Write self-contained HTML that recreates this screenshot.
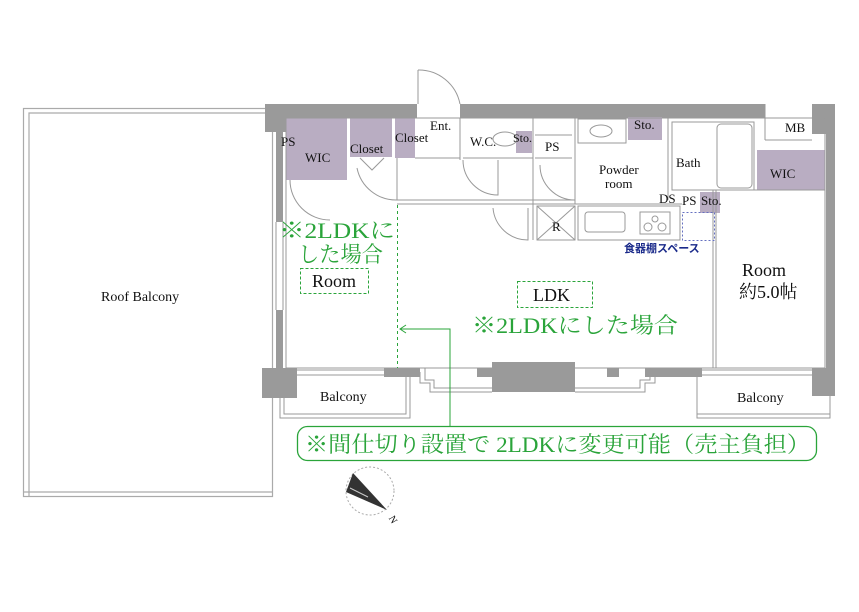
<!DOCTYPE html>
<html><head><meta charset="utf-8"><style>
html,body{margin:0;padding:0;background:#fff;}
svg{display:block;}
text{font-family:"Liberation Serif","Noto Serif CJK SC",serif;fill:#111;}
.g{fill:#2aa43a;font-family:"Liberation Serif","Noto Serif CJK JP",serif;}
</style></head><body>
<svg width="859" height="612" viewBox="0 0 859 612" xmlns="http://www.w3.org/2000/svg">
<g fill="none" stroke="#aaa" stroke-width="1.2">
<rect x="23.5" y="108.5" width="249" height="388"/>
<polyline points="29,496 29,113 272,113"/>
<line x1="23" y1="492" x2="272" y2="492"/>
</g>
<g fill="#9a9a9a">
<rect x="265" y="104" width="152" height="14"/>
<rect x="265" y="104" width="32" height="28"/>
<rect x="276" y="130" width="7" height="92"/>
<rect x="276" y="310" width="7" height="60"/>
<rect x="262" y="368" width="35" height="30"/>
<rect x="460" y="104" width="305" height="14"/>
<rect x="812" y="104" width="23" height="30"/>
<rect x="826" y="130" width="9" height="240"/>
<rect x="812" y="368" width="23" height="28"/>
<rect x="384" y="368" width="36" height="9"/>
<rect x="477" y="368" width="25" height="9"/>
<rect x="492" y="362" width="83" height="30"/>
<rect x="607" y="368" width="12" height="9"/>
<rect x="645" y="368" width="57" height="9"/>
</g>
<g fill="#b9adc2">
<rect x="286" y="118" width="61" height="62"/>
<rect x="350" y="118" width="42" height="39"/>
<rect x="395" y="118" width="20" height="40"/>
<rect x="516" y="131" width="16" height="22"/>
<rect x="628" y="117" width="34" height="23"/>
<rect x="757" y="150" width="68" height="40"/>
<rect x="700" y="192" width="20" height="21"/>
</g>
<g fill="none" stroke="#999" stroke-width="1">
<rect x="286" y="118" width="539" height="250"/>
<line x1="397" y1="158" x2="397" y2="200"/>
<line x1="397" y1="200" x2="575" y2="200"/>
<line x1="397" y1="204" x2="575" y2="204"/>
<line x1="460" y1="118" x2="460" y2="160"/>
<line x1="415" y1="158" x2="460" y2="158"/>
<line x1="463" y1="158" x2="533" y2="158"/>
<line x1="533" y1="118" x2="533" y2="240"/>
<line x1="535" y1="135" x2="572" y2="135"/>
<line x1="535" y1="158" x2="572" y2="158"/>
<line x1="575" y1="115" x2="575" y2="204"/>
<line x1="668" y1="118" x2="668" y2="200"/>
<rect x="672" y="122" width="82" height="68"/>
<rect x="717" y="124" width="35" height="64" rx="4"/>
<line x1="575" y1="204" x2="682" y2="204"/>
<rect x="537" y="206" width="38" height="34"/>
<line x1="537" y1="206" x2="575" y2="240"/><line x1="575" y1="206" x2="537" y2="240"/>
<rect x="578" y="206" width="102" height="34"/>
<rect x="585" y="212" width="40" height="20" rx="3"/>
<rect x="640" y="212" width="30" height="22"/>
<circle cx="648" cy="227" r="4"/><circle cx="662" cy="227" r="4"/><circle cx="655" cy="219" r="3"/>
<rect x="578" y="119" width="48" height="24"/>
<ellipse cx="601" cy="131" rx="11" ry="6"/>
<line x1="713" y1="190" x2="713" y2="368"/>
<line x1="716" y1="190" x2="716" y2="368"/>
<line x1="720" y1="190" x2="825" y2="190"/>
<line x1="765" y1="104" x2="765" y2="140"/>
<line x1="765" y1="140" x2="812" y2="140"/>
<path d="M418,70 L418,104 M418,70 A42,42 0 0 1 460,104"/>
<path d="M357,168 A40,40 0 0 0 397,200"/>
<path d="M290,180 A40,40 0 0 0 330,220"/>
<path d="M463,160 A35,35 0 0 0 498,195 L498,160"/>
<path d="M493,208 A35,35 0 0 0 528,240 L528,208"/>
<path d="M540,165 A35,35 0 0 0 575,200"/>
<path d="M360,158 L372,170 L384,158"/>
<ellipse cx="505" cy="139" rx="12" ry="7"/>
<line x1="297" y1="370" x2="384" y2="370"/><line x1="297" y1="375" x2="384" y2="375"/>
<line x1="702" y1="370" x2="812" y2="370"/><line x1="702" y1="375" x2="812" y2="375"/>
<polyline points="420,372 420,383 430,383 430,392 492,392"/>
<polyline points="420,368 425,368 425,380 434,380 434,388 492,388"/>
<polyline points="575,388 640,388 640,380 650,380 650,368"/>
<polyline points="575,392 645,392 645,383 655,383 655,372"/>
<polyline points="280,398 280,418 410,418 410,377"/>
<polyline points="284,398 284,414 406,414 406,377"/>
<polyline points="697,377 697,418 830,418 830,396"/>
<line x1="697" y1="414" x2="830" y2="414"/>
<line x1="276" y1="222" x2="276" y2="310"/><line x1="283" y1="222" x2="283" y2="310"/>
</g>
<rect x="682.5" y="212.5" width="32" height="28" fill="none" stroke="#6670c0" stroke-dasharray="2,2"/>
<g stroke="#2aa43a" fill="none">
<line x1="397.5" y1="205" x2="397.5" y2="368" stroke-dasharray="3,3"/>
<rect x="300.5" y="268.5" width="68" height="25" stroke-dasharray="3,2"/>
<rect x="517.5" y="281.5" width="75" height="26" stroke-dasharray="3,2"/>
<polyline points="450,426 450,329 400,329"/>
<polyline points="406,325 400,329 406,333"/>
<rect x="297.5" y="426.5" width="519" height="34" rx="10" stroke-width="1.3"/>
</g>
<circle cx="370" cy="491" r="24" fill="none" stroke="#aaa" stroke-dasharray="2,2"/>
<polygon points="353,473 346,492 387,510" fill="#333"/>
<line x1="350" y1="488" x2="368" y2="497" stroke="#ccc"/>
<text x="392" y="520" font-size="10" transform="rotate(60 392 516)">N</text>
<g font-size="13">
<text x="101" y="301" font-size="14">Roof Balcony</text>
<text x="281" y="146">PS</text>
<text x="305" y="162">WIC</text>
<text x="350" y="153">Closet</text>
<text x="395" y="142">Closet</text>
<text x="430" y="130">Ent.</text>
<text x="470" y="146">W.C.</text>
<text x="513" y="142" font-size="12">Sto.</text>
<text x="545" y="151">PS</text>
<text x="599" y="174">Powder</text>
<text x="605" y="188">room</text>
<text x="634" y="129">Sto.</text>
<text x="676" y="167">Bath</text>
<text x="770" y="178">WIC</text>
<text x="785" y="132">MB</text>
<text x="659" y="203">DS</text>
<text x="682" y="205">PS</text>
<text x="701" y="205">Sto.</text>
<text x="552" y="231">R</text>
<text x="624" y="252" font-size="11" style="fill:#1a2a8a;font-family:'Noto Sans CJK JP',sans-serif;font-weight:bold">食器棚スペース</text>
<text x="312" y="287" font-size="18">Room</text>
<text x="533" y="301" font-size="18">LDK</text>
<text x="742" y="276" font-size="18">Room</text>
<text x="739" y="298" font-size="18">約5.0帖</text>
<text x="320" y="401" font-size="14">Balcony</text>
<text x="737" y="402" font-size="14">Balcony</text>
</g>
<g class="g">
<text x="279" y="238" class="g" font-size="22" textLength="116" lengthAdjust="spacingAndGlyphs">※2LDKに</text>
<text x="298" y="262" class="g" font-size="22" textLength="85" lengthAdjust="spacingAndGlyphs">した場合</text>
<text x="472" y="333" class="g" font-size="22" textLength="206" lengthAdjust="spacingAndGlyphs">※2LDKにした場合</text>
<text x="305" y="452" class="g" font-size="22" textLength="505" lengthAdjust="spacingAndGlyphs">※間仕切り設置で 2LDKに変更可能（売主負担）</text>
</g>
</svg>
</body></html>
